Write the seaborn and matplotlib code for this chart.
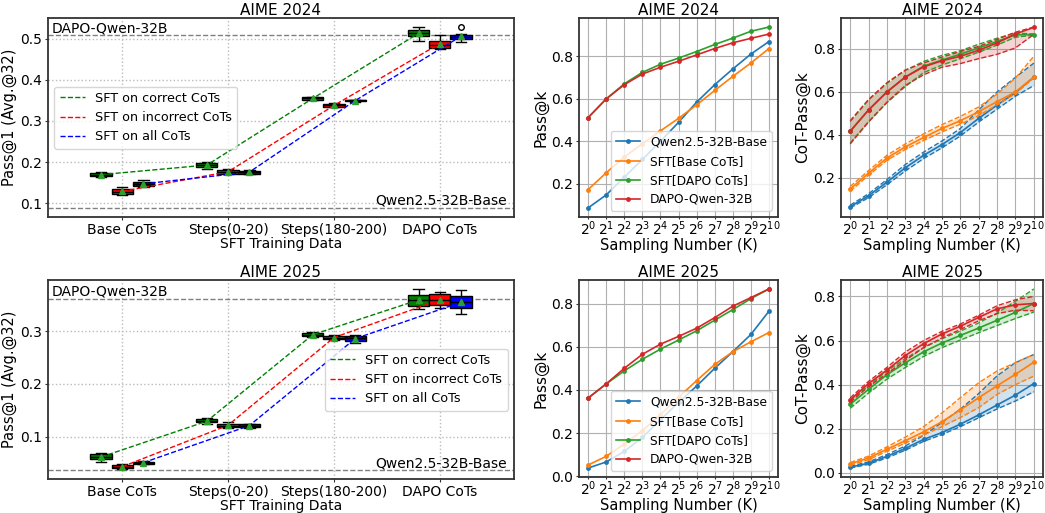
import numpy as np
import pandas as pd
import matplotlib
matplotlib.use("Agg")
import matplotlib.pyplot as plt
import seaborn as sns
from matplotlib.lines import Line2D

plt.rcParams["font.family"] = ["DejaVu Sans"]

# ---------------- data: left box plots ----------------
categories = ["Base CoTs", "Steps(0-20)", "Steps(180-200)", "DAPO CoTs"]
variants = ["SFT on correct CoTs", "SFT on incorrect CoTs", "SFT on all CoTs"]

# AIME 2024 Pass@1 (Avg.@32) samples per category
a24_correct = [[0.163, 0.165, 0.169, 0.173, 0.176],
               [0.183, 0.188, 0.193, 0.198, 0.201],
               [0.351, 0.352, 0.355, 0.358, 0.359],
               [0.495, 0.508, 0.515, 0.522, 0.529]]
a24_incorrect = [[0.119, 0.122, 0.128, 0.134, 0.139],
                 [0.171, 0.172, 0.176, 0.180, 0.182],
                 [0.333, 0.334, 0.338, 0.341, 0.343],
                 [0.476, 0.478, 0.486, 0.494, 0.510]]
a24_all = [[0.139, 0.141, 0.146, 0.152, 0.156],
           [0.171, 0.172, 0.175, 0.178, 0.180],
           [0.347, 0.348, 0.350, 0.351, 0.352],
           [0.4935, 0.498, 0.501, 0.504, 0.507, 0.513, 0.529]]
a24_dapo_ref = 0.509
a24_base_ref = 0.088

# AIME 2025
a25_correct = [[0.0527, 0.0577, 0.062, 0.0666, 0.0685],
               [0.1233, 0.1271, 0.129, 0.1328, 0.1347],
               [0.289, 0.2905, 0.293, 0.2956, 0.2975],
               [0.3416, 0.3473, 0.358, 0.3681, 0.3795]]
a25_incorrect = [[0.038, 0.041, 0.0425, 0.0464, 0.048],
                 [0.117, 0.1189, 0.121, 0.1246, 0.127],
                 [0.2837, 0.2849, 0.287, 0.2905, 0.2918],
                 [0.3441, 0.3492, 0.358, 0.3694, 0.3744]]
a25_all = [[0.048, 0.0489, 0.051, 0.0527, 0.054],
           [0.1164, 0.1189, 0.121, 0.1233, 0.1246],
           [0.2767, 0.2817, 0.286, 0.2905, 0.2924],
           [0.3315, 0.3429, 0.354, 0.3662, 0.377]]
a25_dapo_ref = 0.3606
a25_base_ref = 0.0369

# ---------------- data: Pass@k ----------------
k_labels = ["$2^{0}$", "$2^{1}$", "$2^{2}$", "$2^{3}$", "$2^{4}$", "$2^{5}$",
            "$2^{6}$", "$2^{7}$", "$2^{8}$", "$2^{9}$", "$2^{10}$"]
models = ["Qwen2.5-32B-Base", "SFT[Base CoTs]", "SFT[DAPO CoTs]", "DAPO-Qwen-32B"]
model_colors = ["#1f77b4", "#ff7f0e", "#2ca02c", "#d62728"]

p24_base = [0.087, 0.148, 0.231, 0.315, 0.400, 0.489, 0.584, 0.666, 0.740, 0.810, 0.869]
p24_sft_base = [0.173, 0.252, 0.326, 0.389, 0.449, 0.508, 0.571, 0.639, 0.705, 0.768, 0.836]
p24_sft_dapo = [0.511, 0.599, 0.670, 0.724, 0.762, 0.791, 0.822, 0.855, 0.885, 0.917, 0.937]
p24_dapo = [0.511, 0.599, 0.666, 0.716, 0.748, 0.776, 0.806, 0.836, 0.863, 0.884, 0.904]

p25_base = [0.038, 0.066, 0.115, 0.180, 0.262, 0.342, 0.418, 0.500, 0.577, 0.657, 0.765]
p25_sft_base = [0.052, 0.092, 0.149, 0.212, 0.285, 0.366, 0.443, 0.518, 0.577, 0.623, 0.666]
p25_sft_dapo = [0.362, 0.428, 0.488, 0.542, 0.589, 0.631, 0.674, 0.723, 0.772, 0.823, 0.868]
p25_dapo = [0.362, 0.428, 0.500, 0.565, 0.612, 0.648, 0.686, 0.735, 0.788, 0.828, 0.868]

# ---------------- data: CoT-Pass@k (mean, lower, upper) ----------------
c24_base = [0.066, 0.117, 0.180, 0.247, 0.305, 0.355, 0.411, 0.477, 0.539, 0.597, 0.669]
c24_base_lo = [0.060, 0.108, 0.168, 0.232, 0.290, 0.340, 0.395, 0.460, 0.520, 0.580, 0.630]
c24_base_hi = [0.073, 0.126, 0.192, 0.262, 0.320, 0.372, 0.430, 0.516, 0.600, 0.668, 0.734]
c24_sft_base = [0.148, 0.222, 0.292, 0.344, 0.388, 0.430, 0.466, 0.508, 0.555, 0.600, 0.669]
c24_sft_base_lo = [0.138, 0.212, 0.282, 0.332, 0.374, 0.414, 0.450, 0.490, 0.540, 0.592, 0.665]
c24_sft_base_hi = [0.160, 0.234, 0.305, 0.358, 0.405, 0.448, 0.486, 0.530, 0.590, 0.665, 0.766]
c24_sft_dapo = [0.417, 0.516, 0.600, 0.669, 0.720, 0.748, 0.776, 0.805, 0.835, 0.866, 0.867]
c24_sft_dapo_lo = [0.362, 0.462, 0.550, 0.625, 0.690, 0.725, 0.755, 0.785, 0.818, 0.855, 0.864]
c24_sft_dapo_hi = [0.462, 0.562, 0.640, 0.700, 0.742, 0.770, 0.792, 0.822, 0.850, 0.874, 0.870]
c24_dapo = [0.417, 0.516, 0.600, 0.669, 0.717, 0.745, 0.766, 0.794, 0.828, 0.870, 0.900]
c24_dapo_lo = [0.358, 0.460, 0.552, 0.630, 0.680, 0.715, 0.732, 0.755, 0.775, 0.805, 0.868]
c24_dapo_hi = [0.466, 0.565, 0.643, 0.702, 0.735, 0.762, 0.788, 0.812, 0.845, 0.878, 0.902]

c25_base = [0.026, 0.044, 0.075, 0.111, 0.152, 0.183, 0.221, 0.263, 0.308, 0.353, 0.405]
c25_base_lo = [0.022, 0.039, 0.068, 0.103, 0.143, 0.174, 0.210, 0.250, 0.290, 0.326, 0.368]
c25_base_hi = [0.030, 0.050, 0.083, 0.122, 0.170, 0.229, 0.289, 0.360, 0.440, 0.500, 0.537]
c25_sft_base = [0.041, 0.068, 0.107, 0.146, 0.186, 0.232, 0.286, 0.341, 0.395, 0.447, 0.502]
c25_sft_base_lo = [0.035, 0.060, 0.098, 0.135, 0.172, 0.210, 0.251, 0.296, 0.356, 0.400, 0.439]
c25_sft_base_hi = [0.047, 0.076, 0.118, 0.162, 0.210, 0.272, 0.341, 0.409, 0.462, 0.500, 0.537]
c25_sft_dapo = [0.311, 0.379, 0.445, 0.499, 0.549, 0.589, 0.623, 0.657, 0.692, 0.728, 0.768]
c25_sft_dapo_lo = [0.293, 0.362, 0.425, 0.478, 0.528, 0.568, 0.602, 0.636, 0.668, 0.700, 0.729]
c25_sft_dapo_hi = [0.328, 0.395, 0.462, 0.518, 0.568, 0.608, 0.643, 0.680, 0.725, 0.778, 0.834]
c25_dapo = [0.331, 0.405, 0.466, 0.532, 0.586, 0.630, 0.665, 0.705, 0.744, 0.762, 0.768]
c25_dapo_lo = [0.320, 0.392, 0.450, 0.510, 0.568, 0.612, 0.650, 0.690, 0.722, 0.738, 0.735]
c25_dapo_hi = [0.340, 0.415, 0.478, 0.548, 0.600, 0.642, 0.675, 0.715, 0.758, 0.785, 0.800]

# ---------------- styling ----------------
box_colors = {"SFT on correct CoTs": "#008000", "SFT on incorrect CoTs": "#ff0000",
              "SFT on all CoTs": "#0000ff"}
TITLE_FS, TICK_FS, ANN_FS = 11, 10, 10


def style_axes(ax):
    for s in ax.spines.values():
        s.set_color("#333333")
        s.set_linewidth(1.3)
    ax.tick_params(length=2.5, pad=1.8, width=0.8, color="#333333")


def box_panel(ax, title, correct, incorrect, allc, dapo_ref, base_ref, ylim, yticks, legloc):
    rows = []
    for var, series in zip(variants, [correct, incorrect, allc]):
        for cat, vals in zip(categories, series):
            for v in vals:
                rows.append({"data": cat, "variant": var, "value": v})
    df = pd.DataFrame(rows)
    ax.axhline(dapo_ref, color="gray", ls="--", lw=1, zorder=1)
    ax.axhline(base_ref, color="gray", ls="--", lw=1, zorder=1)
    sns.boxplot(data=df, x="data", y="value", hue="variant", order=categories,
                hue_order=variants, palette=box_colors, width=0.6, gap=0,
                saturation=1, linecolor="black", linewidth=1, showmeans=True,
                meanprops=dict(marker="^", markerfacecolor="#2ca02c",
                               markeredgecolor="#2ca02c", markersize=5),
                flierprops=dict(marker="o", markerfacecolor="none",
                                markeredgecolor="black", markersize=4),
                whis=1.5, legend=False, ax=ax)
    sns.pointplot(data=df, x="data", y="value", hue="variant", order=categories,
                  hue_order=variants, palette=box_colors, dodge=0.4, markers="",
                  linestyles="--", errorbar=None, linewidth=1, legend=False, ax=ax)
    ax.set_xlim(-0.7, 3.7)
    ax.set_ylim(*ylim)
    ax.set_yticks(yticks)
    ax.grid(True, linestyle=":", color="#bbbbbb", lw=1)
    ax.set_axisbelow(True)
    ax.set_title(title, fontsize=TITLE_FS, pad=2)
    ax.set_xlabel("SFT Training Data", fontsize=10, labelpad=0)
    ax.set_ylabel("Pass@1 (Avg.@32)", fontsize=10.5, labelpad=2)
    style_axes(ax)
    ax.tick_params(labelsize=TICK_FS)
    ax.text(0.008, dapo_ref, "DAPO-Qwen-32B", transform=ax.get_yaxis_transform(),
            ha="left", va="bottom", fontsize=ANN_FS)
    ax.text(0.985, base_ref, "Qwen2.5-32B-Base", transform=ax.get_yaxis_transform(),
            ha="right", va="bottom", fontsize=ANN_FS)
    handles = [Line2D([], [], color=box_colors[v], ls="--", lw=1) for v in variants]
    ax.legend(handles, variants, loc=legloc, fontsize=9.2)


def k_axis(ax, title, ylabel):
    ax.set_xticks(range(len(k_labels)))
    ax.set_xticklabels(k_labels)
    ax.grid(True, color="#b0b0b0", lw=0.8)
    ax.set_axisbelow(True)
    ax.set_title(title, fontsize=TITLE_FS, pad=2)
    ax.set_xlabel("Sampling Number (K)", fontsize=10.5, labelpad=0)
    ax.set_ylabel(ylabel, fontsize=11, labelpad=2)
    style_axes(ax)
    ax.tick_params(axis="y", labelsize=TICK_FS)
    ax.tick_params(axis="x", labelsize=10, length=1.5, pad=0.5)


def passk_panel(ax, title, series):
    x = list(range(len(k_labels)))
    for name, col, vals in zip(models, model_colors, series):
        sns.lineplot(x=x, y=vals, ax=ax, color=col, marker="o", markersize=3.5,
                     markeredgewidth=0, linewidth=1.2, label=name)
    k_axis(ax, title, "Pass@k")
    ax.legend(loc="lower right", fontsize=8.8)


def cotk_panel(ax, title, series):
    x = list(range(len(k_labels)))
    for col, (m, lo, hi) in zip(model_colors, series):
        ax.fill_between(x, lo, hi, color=col, alpha=0.2, lw=0)
        sns.lineplot(x=x, y=lo, ax=ax, color=col, linestyle="--", linewidth=1)
        sns.lineplot(x=x, y=hi, ax=ax, color=col, linestyle="--", linewidth=1)
        sns.lineplot(x=x, y=m, ax=ax, color=col, marker="o", markersize=3.5,
                     markeredgewidth=0, linewidth=1.2)
    k_axis(ax, title, "CoT-Pass@k")


fig = plt.figure(figsize=(10.45, 5.13), dpi=100)
W, H = 1045, 513


def rect(l, r, t, b):
    return [l / W, 1 - b / H, (r - l) / W, (b - t) / H]


ax1 = fig.add_axes(rect(48, 514, 18, 217))
ax2 = fig.add_axes(rect(579, 778, 18, 217))
ax3 = fig.add_axes(rect(841, 1043, 18, 217))
ax4 = fig.add_axes(rect(48, 514, 280, 479))
ax5 = fig.add_axes(rect(579, 778, 280, 477))
ax6 = fig.add_axes(rect(841, 1043, 280, 477))

box_panel(ax1, "AIME 2024", a24_correct, a24_incorrect, a24_all, a24_dapo_ref,
          a24_base_ref, (0.066, 0.551), [0.1, 0.2, 0.3, 0.4, 0.5], "center left")
box_panel(ax4, "AIME 2025", a25_correct, a25_incorrect, a25_all, a25_dapo_ref,
          a25_base_ref, (0.02, 0.3965), [0.1, 0.2, 0.3], "center right")

passk_panel(ax2, "AIME 2024", [p24_base, p24_sft_base, p24_sft_dapo, p24_dapo])
passk_panel(ax5, "AIME 2025", [p25_base, p25_sft_base, p25_sft_dapo, p25_dapo])

cotk_panel(ax3, "AIME 2024", [(c24_base, c24_base_lo, c24_base_hi),
                              (c24_sft_base, c24_sft_base_lo, c24_sft_base_hi),
                              (c24_sft_dapo, c24_sft_dapo_lo, c24_sft_dapo_hi),
                              (c24_dapo, c24_dapo_lo, c24_dapo_hi)])
cotk_panel(ax6, "AIME 2025", [(c25_base, c25_base_lo, c25_base_hi),
                              (c25_sft_base, c25_sft_base_lo, c25_sft_base_hi),
                              (c25_sft_dapo, c25_sft_dapo_lo, c25_sft_dapo_hi),
                              (c25_dapo, c25_dapo_lo, c25_dapo_hi)])
ax2.set_yticks([0.2, 0.4, 0.6, 0.8])
ax3.set_yticks([0.2, 0.4, 0.6, 0.8])

fig.savefig("out.png", dpi=100)
